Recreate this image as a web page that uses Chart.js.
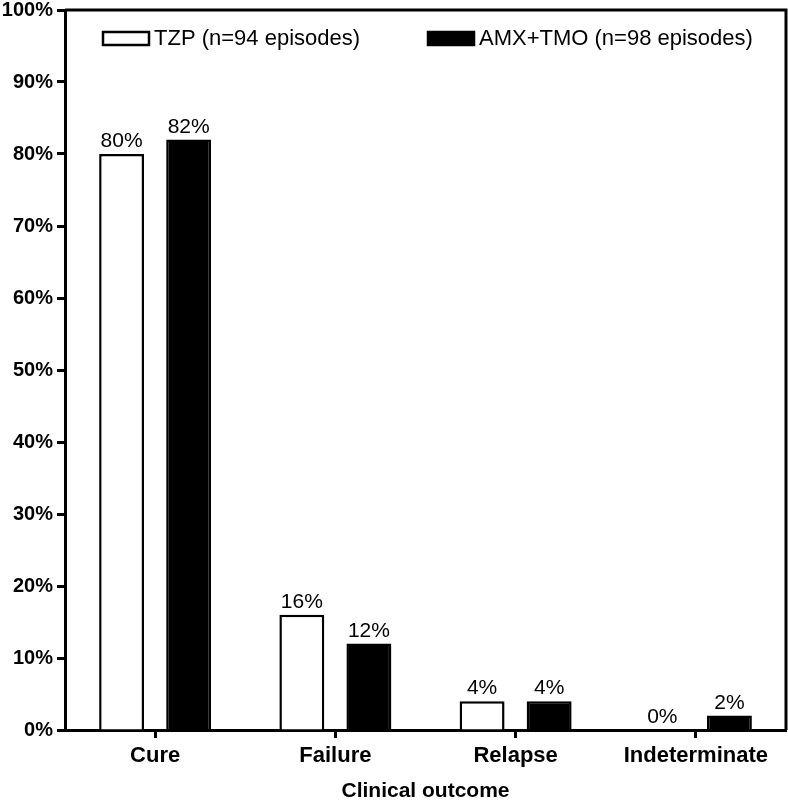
<!DOCTYPE html>
<html>
<head>
<meta charset="utf-8">
<script src="https://cdn.jsdelivr.net/npm/chart.js@4.4.0/dist/chart.umd.min.js"></script>
<style>
  html, body { margin: 0; padding: 0; background: #fff; }
  #wrap { width: 788px; height: 802px; }
</style>
</head>
<body>
<div id="wrap"><canvas id="outcomeChart"></canvas></div>
<script>
// data
const outcomes = ['Cure', 'Failure', 'Relapse', 'Indeterminate'];
const tzpValues = [80, 16, 4, 0];
const amxValues = [82, 12, 4, 2];
const seriesNames = ['TZP (n=94 episodes)', 'AMX+TMO (n=98 episodes)'];
const yTicks = [0, 10, 20, 30, 40, 50, 60, 70, 80, 90, 100];

const FONT = '"Liberation Sans", Arial, Helvetica, sans-serif';

// box around the plot (top + right sides)
const framePlugin = {
    id: 'frame',
    afterDraw(chart) {
        const a = chart.chartArea;
        const c = chart.ctx;
        c.save();
        c.strokeStyle = '#000';
        c.lineWidth = 3;
        c.beginPath();
        c.moveTo(a.left, a.top);
        c.lineTo(a.right, a.top);
        c.lineTo(a.right, a.bottom);
        c.stroke();
        c.restore();
    }
};

// percentage labels above each bar
const valueLabels = {
    id: 'valueLabels',
    afterDatasetsDraw(chart) {
        const c = chart.ctx;
        c.save();
        c.font = '21px ' + FONT;
        c.fillStyle = '#000';
        c.textAlign = 'center';
        c.textBaseline = 'bottom';
        chart.data.datasets.forEach((ds, i) => {
            chart.getDatasetMeta(i).data.forEach((bar, j) => {
                c.fillText(ds.data[j] + '%', bar.x, bar.y - 2);
            });
        });
        c.restore();
    }
};

// legend drawn inside the plot, like the original
const innerLegend = {
    id: 'innerLegend',
    afterDraw(chart) {
        const c = chart.ctx;
        const xs = [103, 428];
        c.save();
        c.font = '22px ' + FONT;
        c.textBaseline = 'middle';
        chart.data.datasets.forEach((ds, i) => {
            const x = xs[i], y = 32;
            c.fillStyle = ds.backgroundColor;
            c.fillRect(x, y, 46, 13);
            c.strokeStyle = '#000';
            c.lineWidth = 2.5;
            c.strokeRect(x, y, 46, 13);
            c.fillStyle = '#000';
            c.fillText(ds.label, x + 51, y + 7);
        });
        c.restore();
    }
};

new Chart(document.getElementById('outcomeChart'), {
    type: 'bar',
    data: {
        labels: outcomes,
        datasets: [
            {
                label: seriesNames[0], data: tzpValues,
                backgroundColor: '#ffffff', borderColor: '#000',
                borderWidth: ctx => ctx.raw === 0 ? 0 : 2.5
            },
            {
                label: seriesNames[1], data: amxValues,
                backgroundColor: '#000000', borderColor: '#000',
                borderWidth: ctx => ctx.raw === 0 ? 0 : 2.5
            }
        ]
    },
    options: {
        responsive: true,
        maintainAspectRatio: false,
        animation: false,
        categoryPercentage: 0.744,
        barPercentage: 0.67,
        layout: { padding: { top: 0, right: 2, left: 0, bottom: 0 } },
        plugins: {
            legend: { display: false },
            tooltip: { enabled: false }
        },
        scales: {
            x: {
                grid: {
                    offset: false, drawOnChartArea: false, drawTicks: true,
                    tickLength: 8, tickWidth: 3, tickColor: '#000'
                },
                border: { color: '#000', width: 3 },
                ticks: {
                    color: '#000', padding: 5,
                    font: { family: FONT, size: 22, weight: 'bold' }
                },
                title: {
                    display: true, text: 'Clinical outcome', color: '#000',
                    font: { family: FONT, size: 21, weight: 'bold', lineHeight: 1 },
                    padding: { top: 4, bottom: 0 }
                },
                afterFit(scale) { scale.height = 72; }
            },
            y: {
                min: 0, max: 100,
                afterBuildTicks(scale) { scale.ticks = yTicks.map(v => ({ value: v })); },
                grid: {
                    drawOnChartArea: false, drawTicks: true,
                    tickLength: 8, tickWidth: 3, tickColor: '#000'
                },
                border: { color: '#000', width: 3 },
                ticks: {
                    color: '#000', padding: 4,
                    font: { family: FONT, size: 20, weight: 'bold', lineHeight: 0.6 },
                    callback: v => v + '%'
                },
                afterFit(scale) { scale.width = 65; }
            }
        }
    },
    plugins: [framePlugin, valueLabels, innerLegend]
});
</script>
</body>
</html>
